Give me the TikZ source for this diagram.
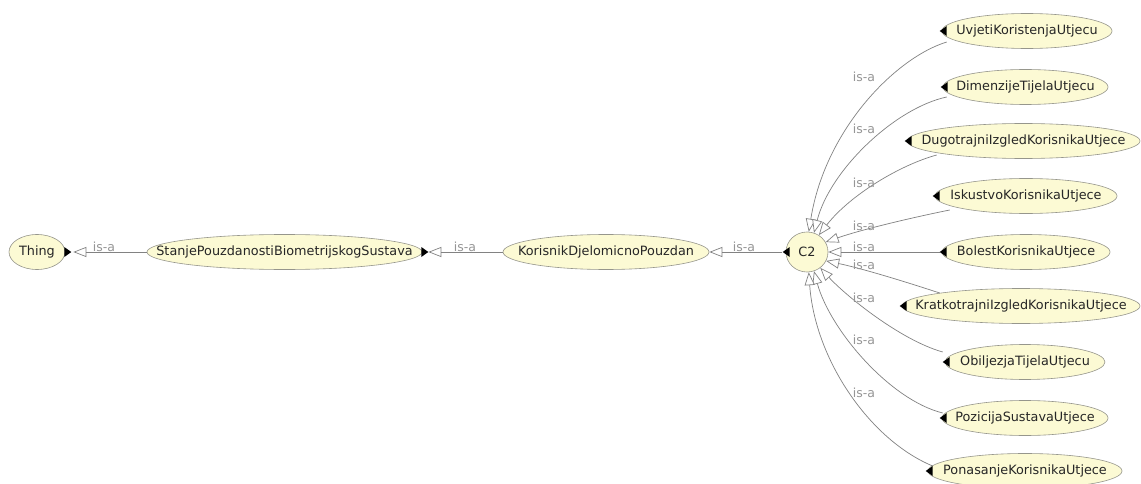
\documentclass[tikz,border=0pt]{standalone}
\usepackage{fontspec}
\setmainfont{DejaVu Sans}
\usetikzlibrary{arrows.meta,shapes.geometric}
\definecolor{nodefill}{RGB}{252,250,212}
\definecolor{nodeline}{RGB}{150,150,140}
\definecolor{edgecol}{RGB}{130,130,130}
\definecolor{labcol}{RGB}{150,150,150}
\newcommand\nt[1]{\makebox[0pt]{#1}}
\newcommand\lefttri[1]{\fill ([xshift=-2pt]#1.west) -- ++(7,-5) -- ++(0,10) -- cycle;}
\newcommand\righttri[1]{\fill ([xshift=-1pt]#1.east) -- ++(0,-5) -- ++(7,5) -- ++(-7,5) -- cycle;}
\begin{document}
\begin{tikzpicture}[x=1pt,y=-1pt,
 cls/.style={ellipse, draw=nodeline, fill=nodefill, line width=0.6pt, inner sep=0pt,
   minimum height=35pt, font=\fontsize{12.8}{15}\selectfont, text=black!85},
 isa/.style={draw=edgecol, line width=0.7pt, -{Triangle[length=13pt,width=10pt,fill=white]}},
 lab/.style={anchor=base, text=labcol, font=\fontsize{12.5}{15}\selectfont, inner sep=0pt}]
\useasboundingbox (0,0) rectangle (1141,484);
\fill[white] (0,0) rectangle (1141,484);

\node[cls, minimum width=56pt] (thing) at (37,252) {\nt{Thing}};
\node[cls, minimum width=275pt] (stanje) at (284.5,252) {\nt{StanjePouzdanostiBiometrijskogSustava}};
\node[cls, minimum width=206pt] (kor) at (606,252) {\nt{KorisnikDjelomicnoPouzdan}};
\node[cls, minimum width=42pt, minimum height=40pt] (c2) at (807,252) {\nt{C2}};

\node[cls, minimum width=170pt] (u1) at (1027,31) {\nt{UvjetiKoristenjaUtjecu}};
\node[cls, minimum width=165pt] (u2) at (1025.5,87) {\nt{DimenzijeTijelaUtjecu}};
\node[cls, minimum width=233pt] (u3) at (1023.5,141) {\nt{DugotrajniIzgledKorisnikaUtjece}};
\node[cls, minimum width=182pt] (u4) at (1026,196) {\nt{IskustvoKorisnikaUtjece}};
\node[cls, minimum width=168pt] (u5) at (1026,252) {\nt{BolestKorisnikaUtjece}};
\node[cls, minimum width=238pt] (u6) at (1021,306) {\nt{KratkotrajniIzgledKorisnikaUtjece}};
\node[cls, minimum width=160pt] (u7) at (1025,362) {\nt{ObiljezjaTijelaUtjecu}};
\node[cls, minimum width=166pt] (u8) at (1025,418) {\nt{PozicijaSustavaUtjece}};
\node[cls, minimum width=194pt] (u9) at (1025,471) {\nt{PonasanjeKorisnikaUtjece}};

\draw[isa, shorten >=8pt] (stanje.west) -- (thing.east);
\draw[isa, shorten >=6pt] (kor.west) -- (stanje.east);
\draw[isa, shorten <=4pt] (c2.west) -- (kor.east);

\draw[isa] ([shift={(5,11)}]u1.west) .. controls (895,58) and (825,130) .. (c2.85);
\draw[isa] ([shift={(4,10)}]u2.west) .. controls (895,108) and (830,170) .. (c2.70);
\draw[isa] ([shift={(30,14)}]u3.west) .. controls (900,165) and (850,195) .. (c2.55);
\draw[isa] ([shift={(15,14)}]u4.west) .. controls (910,218) and (860,230) .. (c2.28);
\draw[isa] ([xshift=-2pt]u5.west) -- (c2.east);
\draw[isa] ([shift={(38,-13)}]u6.west) .. controls (900,280) and (860,268) .. (c2.-25);
\draw[isa] ([shift={(-2,-10)}]u7.west) .. controls (900,340) and (845,295) .. (c2.-50);
\draw[isa] ([shift={(1,-5)}]u8.west) .. controls (890,400) and (830,330) .. (c2.-70);
\draw[isa] ([shift={(5,-5)}]u9.west) .. controls (870,440) and (815,360) .. (c2.-85);

\righttri{thing}
\righttri{stanje}
\fill ([xshift=-3pt]c2.west) -- ++(7,-5) -- ++(0,10) -- cycle;
\lefttri{u1}\lefttri{u2}\lefttri{u3}\lefttri{u4}\lefttri{u5}
\lefttri{u6}\lefttri{u7}\lefttri{u8}\lefttri{u9}

\node[lab] (l0) at (104,251) {is-a};
\node[lab] (l1) at (465,251) {is-a};
\node[lab] (l2) at (744,251) {is-a};
\node[lab] (m1) at (864,82) {is-a};
\node[lab] (m2) at (864,134) {is-a};
\node[lab] (m3) at (864,187) {is-a};
\node[lab] (m4) at (864,230) {is-a};
\node[lab] (m5) at (864,251) {is-a};
\node[lab] (m6) at (864,269) {is-a};
\node[lab] (m7) at (864,302) {is-a};
\node[lab] (m8) at (864,344) {is-a};
\node[lab] (m9) at (864,397) {is-a};
\end{tikzpicture}
\end{document}
